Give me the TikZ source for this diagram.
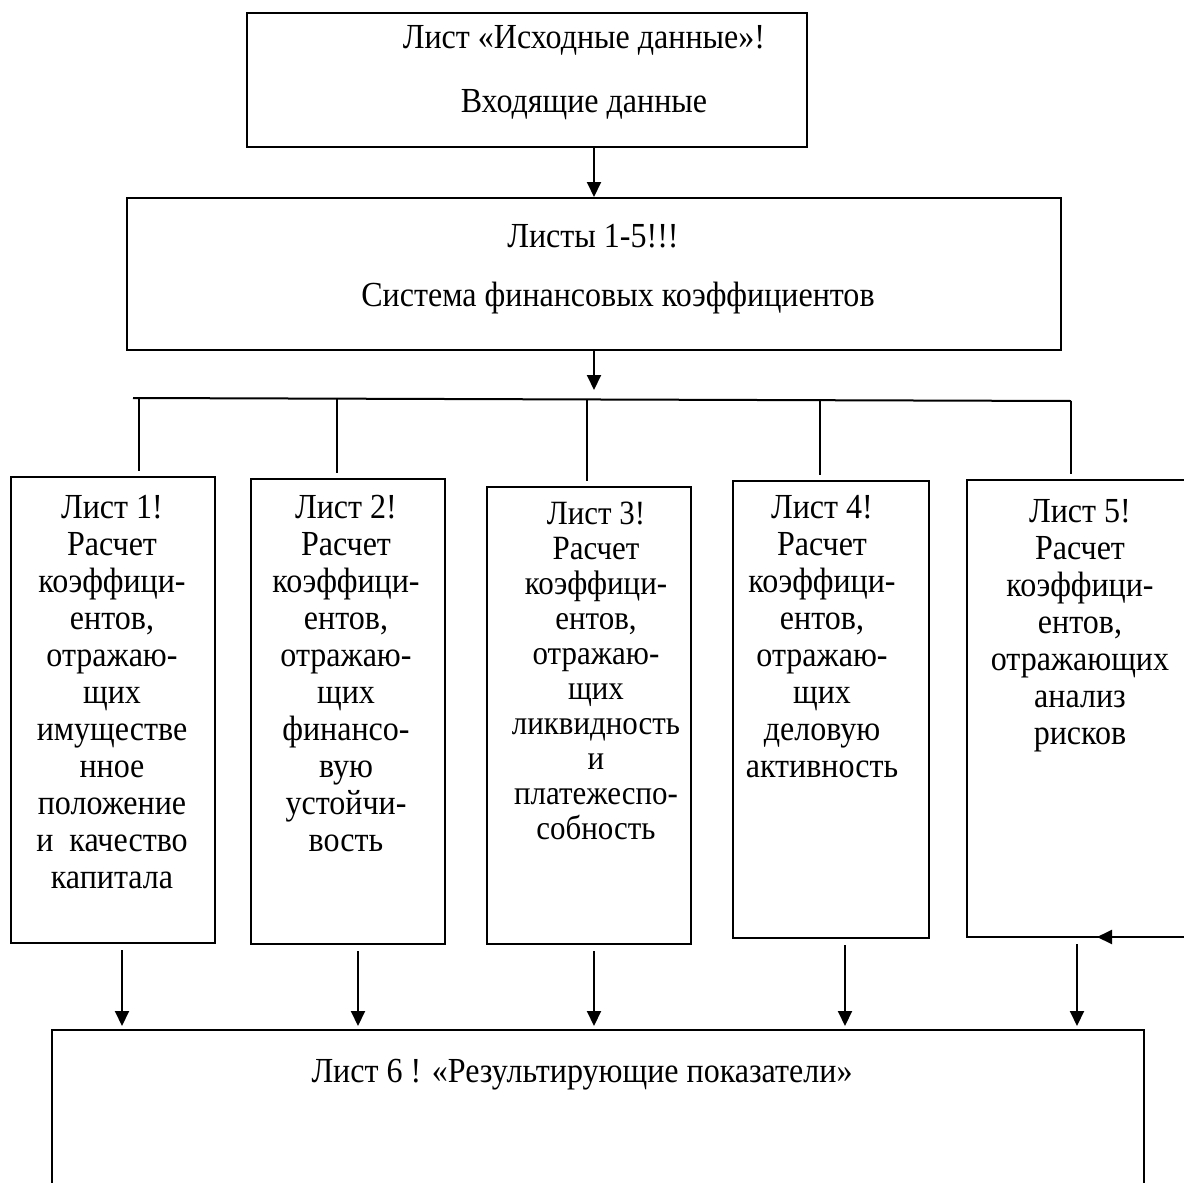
\documentclass[tikz,border=0pt]{standalone}
\usepackage{fontspec}
\setmainfont{Liberation Serif}[FakeStretch=0.91]
\usetikzlibrary{arrows.meta,fit}
\begin{document}
\begin{tikzpicture}[x=0.5pt,y=-0.5pt,
  frame/.style={draw, line width=1pt, inner sep=0pt},
  lbl/.style={font=\fontsize{17.6}{18.5}\selectfont, inner sep=0pt, align=center},
  lbltight/.style={font=\fontsize{17}{17.5}\selectfont, inner sep=0pt, align=center},
  conn/.style={line width=1pt},
  arr/.style={line width=1pt, -{Triangle[length=7.5pt,width=7pt]}}]
\useasboundingbox (0,0) rectangle (1184,1183);
\clip (0,0) rectangle (1184,1183);
% frames
\node[frame, fit={(247,13) (807,147)}] (top) {};
\node[frame, fit={(127,198) (1061,350)}] (sys) {};
\node[frame, fit={(11,477) (215,943)}] (b1) {};
\node[frame, fit={(251,479) (445,944)}] (b2) {};
\node[frame, fit={(487,487) (691,944)}] (b3) {};
\node[frame, fit={(733,481) (929,938)}] (b4) {};
\node[frame, fit={(967,480) (1200,937)}] (b5) {};
\node[frame, fit={(52,1030) (1144,1200)}] (res) {};
% texts
\node[lbl] (t0a) at (584,40) {Лист «Исходные данные»!};
\node[lbl] (t0b) at (584,105) {Входящие данные};
\node[lbl] (t1a) at (593,236) {Листы 1-5!!!};
\node[lbl] (t1b) at (618,298) {Система финансовых коэффициентов};
\node[lbl, anchor=north] (x1) at (112,495) {Лист 1!\\Расчет\\коэффици-\\ентов,\\отражаю-\\щих\\имуществе\\нное\\положение\\и~ качество\\капитала};
\node[lbl, anchor=north] (x2) at (346,495) {Лист 2!\\Расчет\\коэффици-\\ентов,\\отражаю-\\щих\\финансо-\\вую\\устойчи-\\вость};
\node[lbltight, anchor=north] (x3) at (596,502) {Лист 3!\\Расчет\\коэффици-\\ентов,\\отражаю-\\щих\\ликвидность\\и\\платежеспо-\\собность};
\node[lbl, anchor=north] (x4) at (822,495) {Лист 4!\\Расчет\\коэффици-\\ентов,\\отражаю-\\щих\\деловую\\активность};
\node[lbl, anchor=north] (x5) at (1080,499) {Лист 5!\\Расчет\\коэффици-\\ентов,\\отражающих\\анализ\\рисков};
\node[lbl] (t6) at (582,1075) {Лист 6 ! «Результирующие показатели»};
% connectors
\draw[arr] (top.south -| sys.north) -- (sys.north);
\coordinate (busc) at (594,398);
\draw[arr, shorten >=4pt] (sys.south) -- (busc);
\coordinate (busL) at (133,398);
\coordinate (busR) at (1071,401);
\draw[conn] (busL) -- (busR);
\coordinate (d1) at (139,398);
\coordinate (d2) at (337,399);
\coordinate (d3) at (587,400);
\coordinate (d4) at (820,400);
\coordinate (d5) at (1071,401);
\foreach \i in {1,...,5} {\draw[conn, shorten >=2.5pt] (d\i) -- (d\i |- b\i.north);}
\coordinate (c1) at (122,0);
\coordinate (c2) at (358,0);
\coordinate (c3) at (594,0);
\coordinate (c4) at (845,0);
\coordinate (c5) at (1077,0);
\foreach \i in {1,...,5} {\draw[arr, shorten <=3pt, shorten >=1.5pt] (c\i |- b\i.south) -- (c\i |- res.north);}
\coordinate (e5) at (1184,937);
\coordinate (e5t) at (1097,937);
\draw[arr] (e5) -- (e5t);
\end{tikzpicture}
\end{document}
